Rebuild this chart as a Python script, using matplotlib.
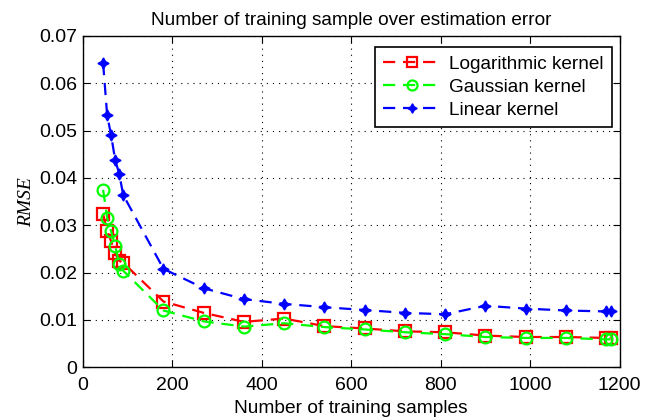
import matplotlib
matplotlib.use("Agg")
import matplotlib.pyplot as plt

# Training-set sizes
n_samples = [45, 54, 63, 72, 81, 90, 180, 270, 360, 450, 540, 630, 720, 810,
             900, 990, 1080, 1170, 1180]

# RMSE per kernel
rmse_log = [0.0324, 0.0289, 0.0266, 0.0241, 0.0225, 0.0221, 0.0139, 0.0115,
            0.0096, 0.0103, 0.0087, 0.0082, 0.0076, 0.0074, 0.0067, 0.0064,
            0.0064, 0.0062, 0.0062]
rmse_gauss = [0.0375, 0.0316, 0.0287, 0.0257, 0.0218, 0.0204, 0.0120, 0.0097,
              0.0086, 0.0093, 0.0085, 0.0080, 0.0074, 0.0070, 0.0064, 0.0062,
              0.0062, 0.0059, 0.0059]
rmse_lin = [0.0643, 0.0533, 0.0490, 0.0438, 0.0409, 0.0364, 0.0208, 0.0167,
            0.0144, 0.0134, 0.0127, 0.0121, 0.0115, 0.0112, 0.0130, 0.0124,
            0.0120, 0.0118, 0.0118]

plt.rcParams["font.family"] = ["Liberation Sans", "DejaVu Sans"]

fig = plt.figure(figsize=(6.56, 4.17), dpi=100)
ax = fig.add_axes([0.1265, 0.1192, 0.8179, 0.7945])

lw = 1.6
dash = (0, (5.5, 3.5))
ax.plot(n_samples, rmse_log, linestyle=dash, color=(1, 0, 0), lw=lw,
        marker="s", markersize=8.5, markerfacecolor="none", markeredgewidth=1.6,
        label="Logarithmic kernel")
ax.plot(n_samples, rmse_gauss, linestyle=dash, color=(0, 1, 0), lw=lw,
        marker="o", markersize=8.5, markerfacecolor="none", markeredgewidth=1.6,
        label="Gaussian kernel")
ax.plot(n_samples, rmse_lin, linestyle=dash, color=(0, 0, 1), lw=lw,
        marker=(4, 1, 0), markersize=8, markeredgewidth=1.0,
        label="Linear kernel")

ax.set_xlim(0, 1200)
ax.set_ylim(0, 0.07)
ax.set_xticks([0, 200, 400, 600, 800, 1000, 1200])
ax.set_yticks([0, 0.01, 0.02, 0.03, 0.04, 0.05, 0.06, 0.07])
ax.set_yticklabels(["0", "0.01", "0.02", "0.03", "0.04", "0.05", "0.06", "0.07"])

ax.grid(True, linestyle=(0, (1, 4.5)), color="black", linewidth=0.8)
ax.tick_params(direction="in", top=True, right=True, labelsize=14,
               length=5, width=0.8)
ax.tick_params(axis="x", pad=7)
ax.tick_params(axis="y", pad=4)
for s in ax.spines.values():
    s.set_linewidth(1.0)

ax.set_title("Number of training sample over estimation error", fontsize=13.7, pad=8)
ax.set_xlabel("Number of training samples", fontsize=13.8, labelpad=4)
ax.set_ylabel("RMSE", fontsize=14, family="Liberation Serif", style="italic",
              labelpad=3)

leg = ax.legend(loc="upper right", bbox_to_anchor=(1 - 7.5 / 536.5, 1 - 11 / 331.3),
                borderaxespad=0, fontsize=13.7, frameon=True, fancybox=False,
                edgecolor="black", framealpha=1, handlelength=3.0,
                handletextpad=0.45, labelspacing=0.3, borderpad=0.45,
                markerscale=0.85)
leg.get_frame().set_linewidth(1.2)

fig.savefig("out.png", dpi=100)
